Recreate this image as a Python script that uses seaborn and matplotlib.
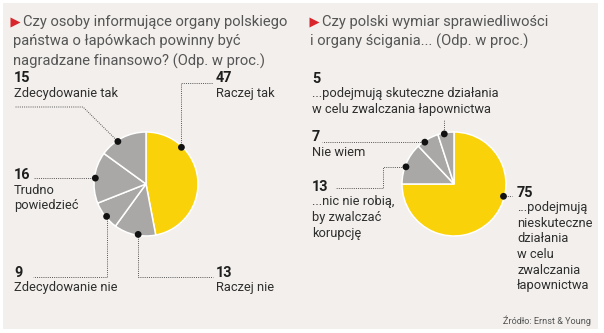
import numpy as np
import pandas as pd
import matplotlib
matplotlib.use("Agg")
import matplotlib.pyplot as plt
from matplotlib.patches import Rectangle
import seaborn as sns

# --- survey answers (percent) -------------------------------------------
left_title = ["Czy osoby informujące organy polskiego",
              "państwa o łapówkach powinny być",
              "nagradzane finansowo? (Odp. w proc.)"]
left_labels = ["Raczej tak", "Raczej nie", "Zdecydowanie nie",
               "Trudno\npowiedzieć", "Zdecydowanie tak"]
left_values = [47, 13, 9, 16, 15]

right_title = ["Czy polski wymiar sprawiedliwości",
               "i organy ścigania... (Odp. w proc.)"]
right_labels = ["...podejmują\nnieskuteczne\ndziałania\nw celu\nzwalczania\nłapownictwa",
                "...nic nie robią,\nby zwalczać\nkorupcję",
                "Nie wiem",
                "...podejmują skuteczne działania\nw celu zwalczania łapownictwa"]
right_values = [75, 13, 7, 5]

source_text = "Źródło: Ernst & Young"

# --- styling ---------------------------------------------------------------
sns.set_theme(style="white")
plt.rcParams["font.family"] = ["Roboto", "DejaVu Sans"]

W, H = 604, 333
YELLOW = "#f9d20a"
GREY = "#a9a8a6"
BG = "#f2efec"
TXT = "#2e2e2e"
TITLE = "#555555"

fig = plt.figure(figsize=(W / 100, H / 100), dpi=100)
fig.patch.set_facecolor("white")
ax = fig.add_axes([0, 0, 1, 1])


def Y(y_px):
    """Convert a top-down pixel row to data y (y grows upwards)."""
    return H - y_px


def draw_pie(values, center, radius, dot_frac, dot_r):
    colors = [YELLOW] + [GREY] * (len(values) - 1)
    ax.pie(values, colors=colors, startangle=90, counterclock=False,
           center=center, radius=radius,
           wedgeprops=dict(edgecolor="white", linewidth=1.1))
    # marker points on each wedge, placed along the wedge's arc
    total = float(sum(values))
    edges = np.concatenate([[0], np.cumsum(values)]) / total * 360.0
    pts = []
    for i, f in enumerate(dot_frac):
        cw = edges[i] + f * (edges[i + 1] - edges[i])
        th = np.deg2rad(90 - cw)
        pts.append((center[0] + dot_r * np.cos(th), center[1] + dot_r * np.sin(th)))
    return pts


ax.add_patch(Rectangle((3, Y(329)), 595, 326, facecolor=BG, edgecolor="none", zorder=0))

R = 52
lc = (146, Y(184))
rc = (454, Y(184))
left_pts = draw_pie(left_values, lc, R, [0.26, 0.42, 0.45, 0.49, 0.38], 51)
right_pts = draw_pie(right_values, rc, R, [0.385, 0.42, 0.33, 0.39], 51)

# leader lines (dotted) from each marker to its caption
lead = dict(color="#555555", lw=0.7, ls=(0, (1, 1.2)), zorder=3)


def leader(points):
    xs, ys = zip(*points)
    ax.plot(xs, ys, **lead)


p = left_pts
leader([p[0], (p[0][0], Y(83)), (213, Y(83))])
leader([p[1], (p[1][0], Y(277)), (213, Y(277))])
leader([p[2], (p[2][0], Y(277)), (33, Y(277))])
leader([p[3], (33, p[3][1])])
leader([p[4], (83, Y(107)), (15, Y(107))])

q = right_pts
leader([q[0], (512, q[0][1])])
leader([q[1], (383, q[1][1]), (383, Y(188)), (335, Y(188))])
leader([q[2], (322, q[2][1])])
leader([q[3], (q[3][0], Y(120))])

dots = pd.DataFrame(left_pts + right_pts, columns=["x", "y"])
sns.scatterplot(data=dots, x="x", y="y", ax=ax, color="#111111", s=24,
                edgecolor="none", zorder=5, legend=False)

# captions: bold value + description below
NUM = dict(fontsize=10.4, fontweight="bold", color="#1e1e1e", va="center", ha="left")
LAB = dict(fontsize=9.3, color=TXT, va="top", ha="left", linespacing=1.25)


def caption(x, y_num, value, label):
    ax.text(x, Y(y_num), f"{value}", **NUM)
    ax.text(x, Y(y_num + 8.5), label, **LAB)


caption(14, 78, left_values[4], left_labels[4])
caption(216, 78, left_values[0], left_labels[0])
caption(14, 175, left_values[3], left_labels[3])
caption(14, 273, left_values[2], left_labels[2])
caption(216, 273, left_values[1], left_labels[1])

caption(312, 79, right_values[3], right_labels[3])
caption(312, 137, right_values[2], right_labels[2])
caption(312, 187, right_values[1], right_labels[1])
caption(517, 193, right_values[0], right_labels[0])

# panel headings with red arrow markers
TT = dict(fontsize=10.65, color=TITLE, va="center", ha="left")
ax.plot([15], [Y(22)], marker=">", color="#d8262c", ms=7, mec="none")
ax.text(23, Y(22), left_title[0], **TT)
for i, line in enumerate(left_title[1:], 1):
    ax.text(13, Y(22 + 19.5 * i), line, **TT)

ax.plot([314], [Y(22)], marker=">", color="#d8262c", ms=7, mec="none")
ax.text(322, Y(22), right_title[0], **TT)
for i, line in enumerate(right_title[1:], 1):
    ax.text(310, Y(22 + 19.5 * i), line, **TT)

ax.text(591, Y(321), source_text, fontsize=6.6, color="#555555", ha="right", va="center")

ax.set_xlim(0, W)
ax.set_ylim(0, H)
ax.set_aspect("auto")
ax.axis("off")

fig.savefig("out.png", dpi=100, facecolor="white")
